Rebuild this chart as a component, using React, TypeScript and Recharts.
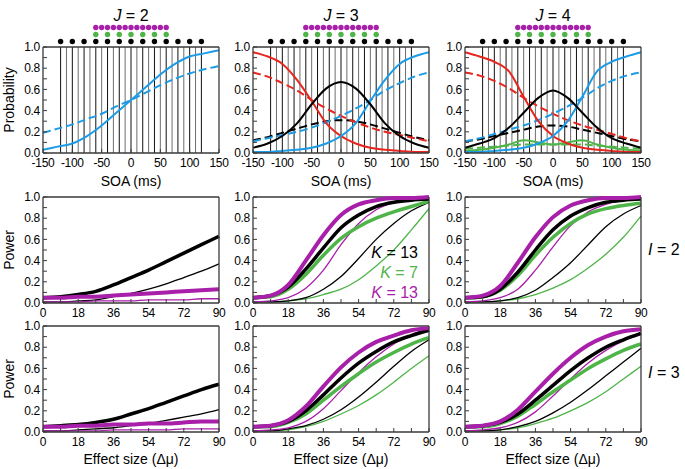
import React from "react";
import {
	Line,
	LineChart,
	ReferenceLine,
	Scatter,
	ScatterChart,
	XAxis,
	YAxis,
} from "recharts";

const FONT = '"Liberation Sans", Arial, Helvetica, sans-serif';

// x grids
const soa = [-150, -125, -100, -75, -50, -25, 0, 25, 50, 75, 100, 125, 150];
const effect = [0, 9, 18, 27, 36, 45, 54, 63, 72, 81, 90];

// stimulus SOAs (dots above the top panels) and the vertical lines
const soaSetBlack = [-120, -100, -80, -60, -40, -20, 0, 20, 40, 60, 80, 100, 120];
const soaSetGreen = [-60, -40, -20, 0, 20, 40, 60];
const soaSetMagenta = [-60, -50, -40, -30, -20, -10, 0, 10, 20, 30, 40, 50, 60];
const soaLines = [
	-120, -110, -100, -90, -80, -70, -60, -50, -40, -30, -20, -10, 0, 10, 20, 30,
	40, 50, 60, 70, 80, 90, 100, 110, 120,
];

const yTicks = [0, 0.1, 0.2, 0.3, 0.4, 0.5, 0.6, 0.7, 0.8, 0.9, 1];
const soaTicks = [-150, -100, -50, 0, 50, 100, 150];
const effectTicks = [0, 9, 18, 27, 36, 45, 54, 63, 72, 81, 90];

// J = 2 probabilities
const j2BlueSolid = [0.03, 0.06, 0.09, 0.16, 0.26, 0.38, 0.5, 0.62, 0.74, 0.84, 0.91, 0.94, 0.97];
const j2BlueDashed = [0.19, 0.23, 0.27, 0.32, 0.37, 0.44, 0.5, 0.57, 0.64, 0.7, 0.75, 0.79, 0.82];

// J = 3 probabilities
const j3RedSolid = [0.95, 0.91, 0.84, 0.69, 0.49, 0.28, 0.16, 0.09, 0.05, 0.03, 0.02, 0.01, 0.01];
const j3RedDashed = [0.76, 0.72, 0.66, 0.59, 0.5, 0.42, 0.35, 0.29, 0.24, 0.2, 0.17, 0.14, 0.11];
const j3BlackSolid = [0.05, 0.09, 0.16, 0.28, 0.46, 0.61, 0.67, 0.61, 0.46, 0.28, 0.16, 0.09, 0.05];
const j3BlackDashed = [0.12, 0.15, 0.19, 0.23, 0.27, 0.3, 0.31, 0.3, 0.27, 0.23, 0.19, 0.15, 0.12];
const j3BlueSolid = [0.01, 0.01, 0.02, 0.03, 0.05, 0.09, 0.16, 0.28, 0.49, 0.69, 0.84, 0.91, 0.95];
const j3BlueDashed = [0.11, 0.14, 0.17, 0.2, 0.24, 0.29, 0.35, 0.42, 0.5, 0.59, 0.66, 0.72, 0.76];

// J = 4 probabilities
const j4RedSolid = [0.95, 0.91, 0.86, 0.77, 0.53, 0.3, 0.16, 0.09, 0.05, 0.03, 0.02, 0.01, 0.01];
const j4RedDashed = [0.76, 0.73, 0.68, 0.61, 0.52, 0.44, 0.37, 0.31, 0.26, 0.22, 0.18, 0.14, 0.11];
const j4BlackSolid = [0.05, 0.09, 0.14, 0.24, 0.38, 0.52, 0.59, 0.52, 0.38, 0.24, 0.14, 0.09, 0.05];
const j4BlackDashed = [0.11, 0.13, 0.16, 0.19, 0.22, 0.25, 0.26, 0.25, 0.22, 0.19, 0.16, 0.13, 0.11];
const j4GreenSolid = [0.02, 0.03, 0.05, 0.08, 0.12, 0.1, 0.08, 0.1, 0.12, 0.08, 0.05, 0.03, 0.02];
const j4GreenDashed = [0.04, 0.05, 0.06, 0.07, 0.08, 0.08, 0.08, 0.08, 0.08, 0.07, 0.06, 0.05, 0.04];
const j4BlueSolid = [0.01, 0.01, 0.02, 0.03, 0.05, 0.09, 0.16, 0.3, 0.53, 0.77, 0.86, 0.91, 0.95];
const j4BlueDashed = [0.11, 0.14, 0.18, 0.22, 0.26, 0.31, 0.37, 0.44, 0.52, 0.61, 0.68, 0.73, 0.76];

// power, I = 2
const i2j2ThickBlack = [0.05, 0.06, 0.08, 0.11, 0.17, 0.24, 0.31, 0.39, 0.47, 0.55, 0.63];
const i2j2ThinBlack = [0.01, 0.01, 0.02, 0.03, 0.06, 0.09, 0.13, 0.18, 0.24, 0.3, 0.37];
const i2j2ThickMagenta = [0.05, 0.05, 0.06, 0.06, 0.07, 0.08, 0.09, 0.1, 0.11, 0.12, 0.13];
const i2j2ThinMagenta = [0.01, 0.01, 0.01, 0.02, 0.02, 0.02, 0.03, 0.03, 0.03, 0.04, 0.04];

const i2j3ThickMagenta = [0.05, 0.07, 0.17, 0.4, 0.64, 0.83, 0.93, 0.97, 0.99, 0.99, 1.0];
const i2j3ThickBlack = [0.05, 0.07, 0.15, 0.32, 0.52, 0.71, 0.83, 0.91, 0.95, 0.97, 0.98];
const i2j3ThickGreen = [0.05, 0.06, 0.13, 0.27, 0.45, 0.61, 0.72, 0.8, 0.86, 0.91, 0.96];
const i2j3ThinMagenta = [0.01, 0.02, 0.05, 0.14, 0.31, 0.55, 0.75, 0.88, 0.95, 0.98, 0.99];
const i2j3ThinBlack = [0.01, 0.01, 0.02, 0.05, 0.13, 0.25, 0.42, 0.6, 0.75, 0.87, 0.95];
const i2j3ThinGreen = [0.01, 0.01, 0.02, 0.04, 0.08, 0.13, 0.22, 0.35, 0.5, 0.69, 0.89];

const i2j4ThickMagenta = [0.05, 0.07, 0.16, 0.38, 0.62, 0.81, 0.92, 0.97, 0.99, 0.99, 1.0];
const i2j4ThickBlack = [0.05, 0.06, 0.13, 0.29, 0.5, 0.69, 0.82, 0.9, 0.95, 0.97, 0.98];
const i2j4ThickGreen = [0.05, 0.06, 0.12, 0.26, 0.45, 0.62, 0.75, 0.84, 0.89, 0.92, 0.94];
const i2j4ThinMagenta = [0.01, 0.02, 0.05, 0.13, 0.31, 0.53, 0.73, 0.86, 0.93, 0.97, 0.99];
const i2j4ThinBlack = [0.01, 0.01, 0.02, 0.05, 0.12, 0.24, 0.38, 0.55, 0.72, 0.84, 0.92];
const i2j4ThinGreen = [0.01, 0.01, 0.02, 0.04, 0.08, 0.14, 0.22, 0.33, 0.46, 0.62, 0.82];

// power, I = 3
const i3j2ThickBlack = [0.05, 0.06, 0.07, 0.09, 0.12, 0.17, 0.22, 0.28, 0.34, 0.4, 0.45];
const i3j2ThinBlack = [0.01, 0.01, 0.02, 0.03, 0.04, 0.06, 0.08, 0.11, 0.14, 0.17, 0.21];
const i3j2ThickMagenta = [0.05, 0.05, 0.06, 0.06, 0.07, 0.07, 0.08, 0.08, 0.09, 0.1, 0.1];
const i3j2ThinMagenta = [0.01, 0.01, 0.01, 0.01, 0.02, 0.02, 0.02, 0.02, 0.03, 0.03, 0.03];

const i3j3ThickMagenta = [0.05, 0.06, 0.11, 0.24, 0.43, 0.61, 0.75, 0.85, 0.91, 0.96, 0.98];
const i3j3ThickBlack = [0.05, 0.06, 0.1, 0.2, 0.35, 0.51, 0.65, 0.76, 0.85, 0.91, 0.96];
const i3j3ThickGreen = [0.05, 0.05, 0.09, 0.17, 0.3, 0.43, 0.55, 0.66, 0.75, 0.83, 0.89];
const i3j3ThinMagenta = [0.01, 0.02, 0.04, 0.1, 0.22, 0.39, 0.56, 0.71, 0.83, 0.92, 0.97];
const i3j3ThinBlack = [0.01, 0.01, 0.03, 0.06, 0.12, 0.21, 0.33, 0.47, 0.62, 0.76, 0.87];
const i3j3ThinGreen = [0.01, 0.01, 0.02, 0.05, 0.1, 0.17, 0.25, 0.35, 0.47, 0.6, 0.72];

const i3j4ThickMagenta = [0.05, 0.06, 0.1, 0.21, 0.38, 0.55, 0.7, 0.82, 0.9, 0.95, 0.97];
const i3j4ThickBlack = [0.05, 0.06, 0.09, 0.17, 0.3, 0.44, 0.58, 0.7, 0.8, 0.87, 0.93];
const i3j4ThickGreen = [0.05, 0.05, 0.08, 0.15, 0.26, 0.38, 0.49, 0.6, 0.69, 0.77, 0.83];
const i3j4ThinMagenta = [0.01, 0.02, 0.04, 0.09, 0.19, 0.34, 0.5, 0.65, 0.77, 0.86, 0.92];
const i3j4ThinBlack = [0.01, 0.01, 0.02, 0.05, 0.1, 0.18, 0.28, 0.4, 0.53, 0.66, 0.79];
const i3j4ThinGreen = [0.01, 0.01, 0.02, 0.04, 0.08, 0.13, 0.2, 0.28, 0.38, 0.5, 0.62];

const BLUE = "#1c9be6";
const RED = "#e6261f";
const BLACK = "#000000";
const GREEN = "#4fb548";
const MAGENTA = "#a81fa9";
const FRAME = "#3a3a3a";

const colLeft = [43, 253, 465];
const rowTop = [47, 197, 326];
const PLOT_W = 176;
const PLOT_H = 106;

type Series = {
	key: string;
	values: number[];
	color: string;
	width: number;
	dashed?: boolean;
};

const probSeries = (
	parts: [string, number[], string, boolean][],
): Series[] =>
	parts.map(([key, values, color, dashed]) => ({
		key,
		values,
		color,
		width: 2,
		dashed,
	}));

const powerSeries = (
	parts: [string, number[], string, boolean][],
): Series[] =>
	parts.map(([key, values, color, thick]) => ({
		key,
		values,
		color,
		width: thick ? (color === MAGENTA ? 4 : 3.5) : 1.3,
	}));

const tickStyle = { fill: "#000", fontSize: 12, fontFamily: FONT, letterSpacing: -0.3 };

function Panel({
	col,
	row,
	xs,
	domain,
	ticks,
	showLabel,
	series,
	lines,
}: {
	col: number;
	row: number;
	xs: number[];
	domain: [number, number];
	ticks: number[];
	showLabel: (v: number) => boolean;
	series: Series[];
	lines?: number[];
}) {
	const data = xs.map((x, i) => {
		const r: Record<string, number> = { x };
		for (const s of series) r[s.key] = s.values[i];
		return r;
	});
	return (
		<div style={{ position: "absolute", left: colLeft[col] - 40, top: rowTop[row] - 6 }}>
			<LineChart
				width={40 + PLOT_W + 4 + 6}
				height={6 + PLOT_H + 24}
				data={data}
				margin={{ top: 6, right: 6, bottom: 0, left: 0 }}
			>
				{lines?.map((g) => (
					<ReferenceLine
						key={g}
						x={g}
						stroke={g % 20 === 0 ? "#111" : "#6e6e6e"}
						strokeWidth={1}
					/>
				))}
				<XAxis
					type="number"
					dataKey="x"
					domain={domain}
					ticks={ticks}
					interval={0}
					height={24}
					tickSize={-4}
					tickMargin={9}
					axisLine={{ stroke: FRAME, strokeWidth: 1.3 }}
					tickLine={{ stroke: FRAME }}
					tick={tickStyle}
					tickFormatter={(v: number) => (showLabel(v) ? String(v) : "")}
				/>
				<YAxis
					type="number"
					domain={[0, 1]}
					ticks={yTicks}
					interval={0}
					width={40}
					tickSize={-4}
					tickMargin={7}
					axisLine={{ stroke: FRAME, strokeWidth: 1.3 }}
					tickLine={{ stroke: FRAME }}
					tick={tickStyle}
					tickFormatter={(v: number) =>
						Math.round(v * 10) % 2 === 0 ? v.toFixed(1) : ""
					}
				/>
				<YAxis
					yAxisId="r"
					orientation="right"
					type="number"
					domain={[0, 1]}
					ticks={yTicks}
					interval={0}
					width={4}
					tickSize={-4}
					axisLine={{ stroke: FRAME, strokeWidth: 1.3 }}
					tickLine={{ stroke: FRAME }}
					tick={false}
				/>
				<ReferenceLine y={1} stroke={FRAME} strokeWidth={1.3} />
				{series.map((s) => (
					<Line
						key={s.key}
						dataKey={s.key}
						type="monotone"
						stroke={s.color}
						strokeWidth={s.width}
						strokeDasharray={s.dashed ? "8 4" : undefined}
						dot={false}
						activeDot={false}
						isAnimationActive={false}
					/>
				))}
			</LineChart>
		</div>
	);
}

function DotRows({ col }: { col: number }) {
	const rows = [
		{ y: 0.5, xs: soaSetBlack, color: BLACK },
		{ y: 1.5, xs: soaSetGreen, color: GREEN },
		{ y: 2.5, xs: soaSetMagenta, color: MAGENTA },
	];
	return (
		<div style={{ position: "absolute", left: colLeft[col] - 40, top: 24 }}>
			<ScatterChart
				width={40 + PLOT_W + 10}
				height={21}
				margin={{ top: 0, right: 10, bottom: 0, left: 40 }}
			>
				<XAxis type="number" dataKey="x" domain={[-150, 150]} hide />
				<YAxis type="number" dataKey="y" domain={[0, 3]} hide />
				{rows.map((r) => (
					<Scatter
						key={r.color}
						data={r.xs.map((x) => ({ x, y: r.y }))}
						fill={r.color}
						isAnimationActive={false}
						shape={(p: any) => <circle cx={p.cx} cy={p.cy} r={2.7} fill={r.color} />}
					/>
				))}
			</ScatterChart>
		</div>
	);
}

const txt = (
	x: number,
	y: number,
	content: React.ReactNode,
	opts: { size?: number; color?: string; anchor?: "center" | "left" | "right"; rotate?: boolean } = {},
) => {
	const { size = 14, color = "#000", anchor = "center", rotate = false } = opts;
	const w = anchor === "left" ? 36 : 160;
	const left = anchor === "center" ? x - w / 2 : anchor === "left" ? x : x - w;
	return (
		<div
			style={{
				position: "absolute",
				left,
				top: y - 10,
				width: w,
				height: 20,
				lineHeight: "20px",
				fontSize: size,
				color,
				textAlign: anchor,
				whiteSpace: "nowrap",
				transform: rotate ? "rotate(-90deg)" : undefined,
			}}
		>
			{content}
		</div>
	);
};

const soaLabel = () => true;
const effectLabel = (v: number) => v % 18 === 0;

export default function App() {
	const probPanels = [
		probSeries([
			["bs", j2BlueSolid, BLUE, false],
			["bd", j2BlueDashed, BLUE, true],
		]),
		probSeries([
			["kd", j3BlackDashed, BLACK, true],
			["rd", j3RedDashed, RED, true],
			["bd", j3BlueDashed, BLUE, true],
			["rs", j3RedSolid, RED, false],
			["bs", j3BlueSolid, BLUE, false],
			["ks", j3BlackSolid, BLACK, false],
		]),
		probSeries([
			["gd", j4GreenDashed, GREEN, true],
			["gs", j4GreenSolid, GREEN, false],
			["kd", j4BlackDashed, BLACK, true],
			["rd", j4RedDashed, RED, true],
			["bd", j4BlueDashed, BLUE, true],
			["rs", j4RedSolid, RED, false],
			["bs", j4BlueSolid, BLUE, false],
			["ks", j4BlackSolid, BLACK, false],
		]),
	];

	const powerPanels = [
		[
			powerSeries([
				["tk", i2j2ThinBlack, BLACK, false],
				["tm", i2j2ThinMagenta, MAGENTA, false],
				["Tk", i2j2ThickBlack, BLACK, true],
				["Tm", i2j2ThickMagenta, MAGENTA, true],
			]),
			powerSeries([
				["tg", i2j3ThinGreen, GREEN, false],
				["tk", i2j3ThinBlack, BLACK, false],
				["tm", i2j3ThinMagenta, MAGENTA, false],
				["Tg", i2j3ThickGreen, GREEN, true],
				["Tk", i2j3ThickBlack, BLACK, true],
				["Tm", i2j3ThickMagenta, MAGENTA, true],
			]),
			powerSeries([
				["tg", i2j4ThinGreen, GREEN, false],
				["tk", i2j4ThinBlack, BLACK, false],
				["tm", i2j4ThinMagenta, MAGENTA, false],
				["Tg", i2j4ThickGreen, GREEN, true],
				["Tk", i2j4ThickBlack, BLACK, true],
				["Tm", i2j4ThickMagenta, MAGENTA, true],
			]),
		],
		[
			powerSeries([
				["tk", i3j2ThinBlack, BLACK, false],
				["tm", i3j2ThinMagenta, MAGENTA, false],
				["Tk", i3j2ThickBlack, BLACK, true],
				["Tm", i3j2ThickMagenta, MAGENTA, true],
			]),
			powerSeries([
				["tg", i3j3ThinGreen, GREEN, false],
				["tk", i3j3ThinBlack, BLACK, false],
				["tm", i3j3ThinMagenta, MAGENTA, false],
				["Tg", i3j3ThickGreen, GREEN, true],
				["Tk", i3j3ThickBlack, BLACK, true],
				["Tm", i3j3ThickMagenta, MAGENTA, true],
			]),
			powerSeries([
				["tg", i3j4ThinGreen, GREEN, false],
				["tk", i3j4ThinBlack, BLACK, false],
				["tm", i3j4ThinMagenta, MAGENTA, false],
				["Tg", i3j4ThickGreen, GREEN, true],
				["Tk", i3j4ThickBlack, BLACK, true],
				["Tm", i3j4ThickMagenta, MAGENTA, true],
			]),
		],
	];

	const centers = colLeft.map((l) => l + PLOT_W / 2);

	return (
		<div
			style={{
				position: "absolute",
				left: 0,
				top: 0,
				width: 685,
				height: 469,
				background: "#fff",
				fontFamily: FONT,
				overflow: "hidden",
			}}
		>
			{[0, 1, 2].map((c) => (
				<React.Fragment key={c}>
					<DotRows col={c} />
					<Panel
						col={c}
						row={0}
						xs={soa}
						domain={[-150, 150]}
						ticks={soaTicks}
						showLabel={soaLabel}
						series={probPanels[c]}
						lines={soaLines}
					/>
					<Panel
						col={c}
						row={1}
						xs={effect}
						domain={[0, 90]}
						ticks={effectTicks}
						showLabel={effectLabel}
						series={powerPanels[0][c]}
					/>
					<Panel
						col={c}
						row={2}
						xs={effect}
						domain={[0, 90]}
						ticks={effectTicks}
						showLabel={effectLabel}
						series={powerPanels[1][c]}
					/>
					{txt(centers[c], 16, <><i>J</i> = {c + 2}</>, { size: 16 })}
					{txt(centers[c], 181, "SOA (ms)")}
					{txt(centers[c], 459, "Effect size (Δμ)")}
				</React.Fragment>
			))}
			{txt(9, 100, "Probability", { rotate: true })}
			{txt(9, 250, "Power", { rotate: true })}
			{txt(9, 379, "Power", { rotate: true })}
			{txt(648, 250, <><i>I</i> = 2</>, { size: 16, anchor: "left" })}
			{txt(648, 373, <><i>I</i> = 3</>, { size: 16, anchor: "left" })}
			{txt(418, 253, <><i>K</i> = 13</>, { size: 16, anchor: "right", color: BLACK })}
			{txt(418, 273, <><i>K</i> = 7</>, { size: 16, anchor: "right", color: GREEN })}
			{txt(418, 293, <><i>K</i> = 13</>, { size: 16, anchor: "right", color: MAGENTA })}
		</div>
	);
}
